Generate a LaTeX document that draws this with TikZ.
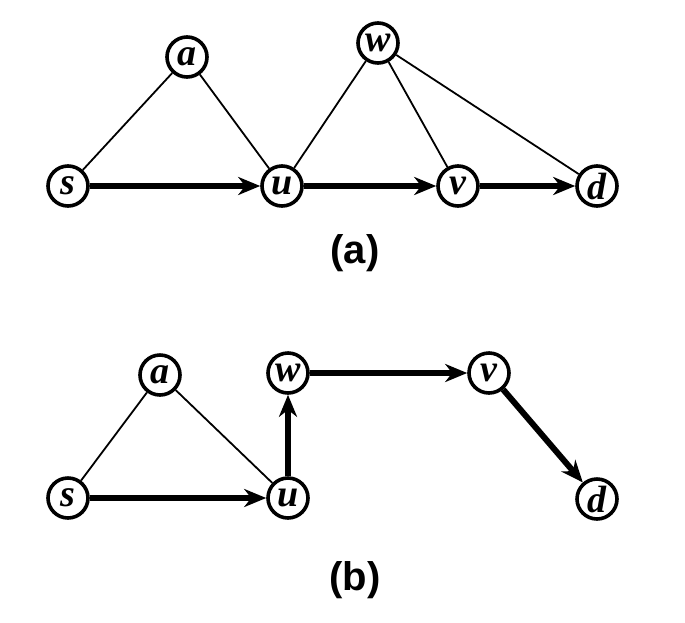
\documentclass[tikz,border=0pt]{standalone}
\usepackage{fontspec}
\setmainfont{Liberation Serif}
\newfontfamily\capfont{Liberation Sans}
\usetikzlibrary{arrows.meta}
\begin{document}
\begin{tikzpicture}[x=1pt,y=-1pt,
  vtx/.style={circle,draw,line width=3.6pt,minimum size=40pt,inner sep=0pt,
    font=\fontsize{38}{38}\selectfont\bfseries\itshape},
  thinedge/.style={line width=1.8pt},
  pathedge/.style={line width=6pt,-{Stealth[length=22pt,width=18pt,inset=7pt]}},
  caption/.style={font=\capfont\fontsize{40}{40}\selectfont\bfseries}]
\useasboundingbox (0,0) rectangle (685,622);
% (a)
\node[vtx] (s1) at (68,186) {s};
\node[vtx] (a1) at (187,57) {a};
\node[vtx] (u1) at (282,186) {u};
\node[vtx] (w1) at (378,43) {w};
\node[vtx] (v1) at (458,186) {v};
\node[vtx] (d1) at (597,186) {d};
\draw[thinedge] (s1) -- (a1);
\draw[thinedge] (a1) -- (u1);
\draw[thinedge] (u1) -- (w1);
\draw[thinedge] (w1) -- (v1);
\draw[thinedge] (w1) -- (d1);
\draw[pathedge] (s1) -- (u1);
\draw[pathedge] (u1) -- (v1);
\draw[pathedge] (v1) -- (d1);
\node[caption] (la) at (355,253) {(a)};
% (b)
\node[vtx] (s2) at (68,498) {s};
\node[vtx] (a2) at (160,375) {a};
\node[vtx] (u2) at (288,498) {u};
\node[vtx] (w2) at (288,373) {w};
\node[vtx] (v2) at (489,373) {v};
\node[vtx] (d2) at (597,499) {d};
\draw[thinedge] (s2) -- (a2);
\draw[thinedge] (a2) -- (u2);
\draw[pathedge] (s2) -- (u2);
\draw[pathedge] (u2) -- (w2);
\draw[pathedge] (w2) -- (v2);
\draw[pathedge] (v2) -- (d2);
\node[caption] (lb) at (355,580) {(b)};
\end{tikzpicture}
\end{document}
